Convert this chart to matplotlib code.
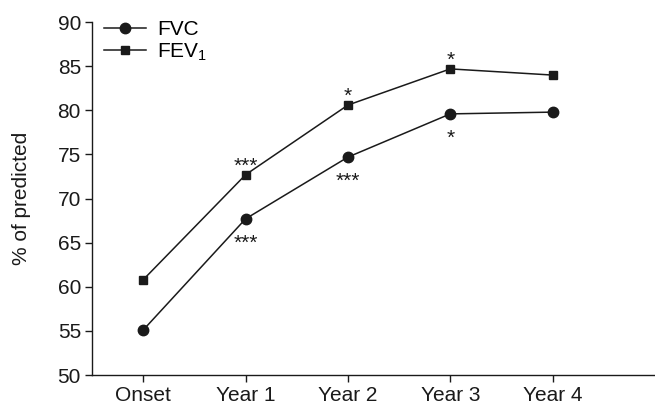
import matplotlib
matplotlib.use('Agg')
import matplotlib.pyplot as plt

plt.rcParams['font.family'] = ['Liberation Sans', 'DejaVu Sans']
plt.rcParams['mathtext.fontset'] = 'custom'
plt.rcParams['mathtext.rm'] = 'Liberation Sans'
plt.rcParams['mathtext.it'] = 'Liberation Sans'

categories = ['Onset', 'Year 1', 'Year 2', 'Year 3', 'Year 4']
fvc = [55.1, 67.7, 74.7, 79.6, 79.8]
fev1 = [60.8, 72.7, 80.6, 84.7, 84.0]
fvc_sig = ['', '***', '***', '*', '']
fev1_sig = ['', '***', '*', '*', '']

fig = plt.figure(figsize=(6.55, 4.07), dpi=100)
ax = fig.add_axes([0.1405, 0.0786, 0.8595, 0.867])

x = list(range(len(categories)))
ax.plot(x, fvc, color='#1a1a1a', lw=1.1, marker='o', ms=7.5, label='FVC')
ax.plot(x, fev1, color='#1a1a1a', lw=1.1, marker='s', ms=6.3, label='FEV$_1$')

# significance stars: FVC below the points, FEV1 above
for i in x:
    if fvc_sig[i]:
        ax.annotate(fvc_sig[i], (i, fvc[i]), xytext=(0, -21.5), textcoords='offset points',
                    ha='center', va='baseline', fontsize=15, color='#1a1a1a')
    if fev1_sig[i]:
        ax.annotate(fev1_sig[i], (i, fev1[i]), xytext=(0, 2.2), textcoords='offset points',
                    ha='center', va='baseline', fontsize=15, color='#1a1a1a')

ax.set_xlim(-0.5, 5.0)
ax.set_ylim(50, 90)
ax.set_yticks(range(50, 91, 5))
ax.set_xticks(x)
ax.set_xticklabels(categories)
ax.spines['top'].set_visible(False)
ax.spines['right'].set_visible(False)
for s in ['left', 'bottom']:
    ax.spines[s].set_linewidth(1.0)
    ax.spines[s].set_color('#1a1a1a')
ax.tick_params(axis='both', direction='out', length=5, width=1.0, labelsize=15,
               colors='#1a1a1a', pad=3)
ax.set_ylabel('% of predicted', fontsize=15, color='#1a1a1a', labelpad=19)

ax.legend(loc='upper left', bbox_to_anchor=(0.0213, 1.005), frameon=False, fontsize=15,
          handlelength=2.0, handletextpad=0.55, labelspacing=0.1,
          borderaxespad=0, borderpad=0)

fig.savefig('out.png', dpi=100)
